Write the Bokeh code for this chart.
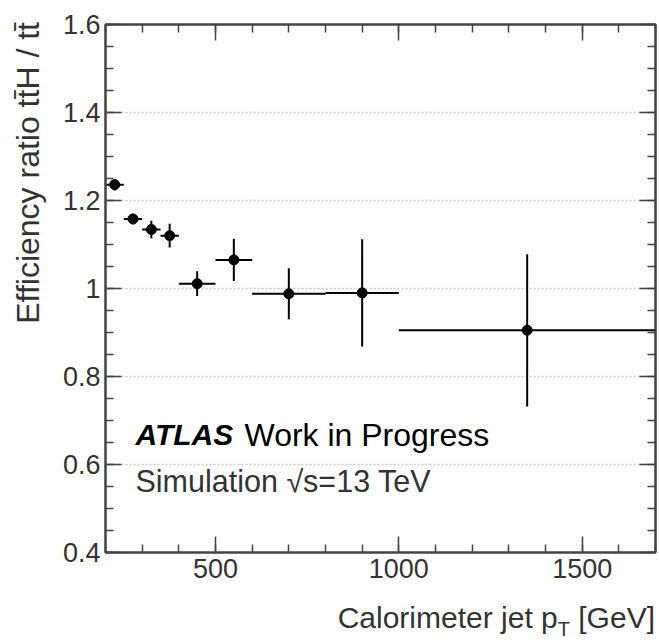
import numpy as np
from bokeh.plotting import figure
from bokeh.layouts import column
from bokeh.models import (Range1d, LinearAxis, FixedTicker, NumeralTickFormatter,
                          CustomJSTickFormatter, Label, ColumnDataSource, Div)
from bokeh.embed import file_html
from bokeh.resources import INLINE

# ---- data ----
pt_center = [225, 275, 325, 375, 450, 550, 700, 900, 1350]
pt_halfwidth = [25, 25, 25, 25, 50, 50, 100, 100, 350]
eff_ratio = [1.236, 1.158, 1.134, 1.120, 1.011, 1.065, 0.988, 0.990, 0.905]
eff_ratio_err = [0.013, 0.012, 0.020, 0.027, 0.028, 0.048, 0.058, 0.122, 0.173]

x_major_ticks = [500, 1000, 1500]
x_minor_ticks = [200, 300, 400, 500, 600, 700, 800, 900, 1000, 1100, 1200, 1300, 1400, 1500, 1600, 1700]
y_major_ticks = [0.4, 0.6, 0.8, 1.0, 1.2, 1.4, 1.6]
y_minor_ticks = [0.4, 0.45, 0.5, 0.55, 0.6, 0.65, 0.7, 0.75, 0.8, 0.85, 0.9, 0.95, 1.0,
                 1.05, 1.1, 1.15, 1.2, 1.25, 1.3, 1.35, 1.4, 1.45, 1.5, 1.55, 1.6]

y_label = "Efficiency ratio tt\u0304H / tt\u0304"
x_label_main = "Calorimeter jet p"
x_label_sub = "T"
x_label_unit = "[GeV]"
atlas_text = "ATLAS"
status_text = "Work in Progress"
sim_text = "Simulation \u221as=13 TeV"

FONT = "Liberation Sans"
AX = "#444444"
TXT = "#333333"

xc = np.array(pt_center, dtype=float)
xw = np.array(pt_halfwidth, dtype=float)
yv = np.array(eff_ratio)
ye = np.array(eff_ratio_err)
src = ColumnDataSource(dict(x=xc, y=yv, xl=xc - xw, xr=xc + xw, ylo=yv - ye, yhi=yv + ye))

p = figure(width=659, height=600, output_backend="svg", toolbar_location=None,
           x_range=Range1d(200, 1700), y_range=Range1d(0.4, 1.6),
           min_border_left=105, min_border_right=4, min_border_top=24, min_border_bottom=48,
           background_fill_color="white", border_fill_color="white")
p.outline_line_color = AX
p.outline_line_width = 2

p.xgrid.visible = False
p.ygrid.ticker = FixedTicker(ticks=y_major_ticks)
p.ygrid.grid_line_color = "#c8c8c8"
p.ygrid.grid_line_dash = "2 2"
p.ygrid.grid_line_width = 1.5


def style_axis(ax, ticker):
    ax.ticker = ticker
    ax.axis_line_color = AX
    ax.axis_line_width = 2
    ax.major_tick_in = 16
    ax.major_tick_out = 0
    ax.minor_tick_in = 8
    ax.minor_tick_out = 0
    ax.major_tick_line_color = AX
    ax.major_tick_line_width = 1.5
    ax.minor_tick_line_color = AX
    ax.minor_tick_line_width = 1.5
    ax.major_label_text_font = FONT
    ax.major_label_text_font_size = "27px"
    ax.major_label_text_color = TXT


style_axis(p.xaxis[0], FixedTicker(ticks=x_major_ticks, minor_ticks=x_minor_ticks))
p.xaxis[0].major_label_standoff = 6
style_axis(p.yaxis[0], FixedTicker(ticks=y_major_ticks, minor_ticks=y_minor_ticks))
p.yaxis[0].formatter = NumeralTickFormatter(format="0.[0]")
p.yaxis[0].major_label_standoff = 5
# ROOT-style title pushed toward the top end of the axis (non-breaking-space padding)
p.yaxis[0].axis_label = "\u00a0" * 26 + y_label
p.yaxis[0].axis_label_text_font = FONT
p.yaxis[0].axis_label_text_font_size = "32px"
p.yaxis[0].axis_label_text_font_style = "normal"
p.yaxis[0].axis_label_text_color = TXT
p.yaxis[0].axis_label_standoff = 14

empty = CustomJSTickFormatter(code="return ''")
top_ax = LinearAxis(formatter=empty, major_label_standoff=0)
style_axis(top_ax, FixedTicker(ticks=x_major_ticks, minor_ticks=x_minor_ticks))
top_ax.major_label_text_font_size = "1px"
p.add_layout(top_ax, "above")
right_ax = LinearAxis(formatter=empty, major_label_standoff=0)
style_axis(right_ax, FixedTicker(ticks=y_major_ticks, minor_ticks=y_minor_ticks))
right_ax.major_label_text_font_size = "1px"
p.add_layout(right_ax, "right")

# error bars and points
p.segment(x0="xl", y0="y", x1="xr", y1="y", source=src, line_color="black", line_width=2)
p.segment(x0="x", y0="ylo", x1="x", y1="yhi", source=src, line_color="black", line_width=2)
p.scatter(x="x", y="y", source=src, size=10, marker="circle", color="black")

# in-plot text
p.add_layout(Label(x=30, y=118, x_units="screen", y_units="screen", text=atlas_text,
                   text_font=FONT, text_font_style="bold italic", text_font_size="30px",
                   text_color="black", text_baseline="alphabetic"))
p.add_layout(Label(x=139, y=118, x_units="screen", y_units="screen", text=status_text,
                   text_font=FONT, text_font_size="32px",
                   text_color="black", text_baseline="alphabetic"))
p.add_layout(Label(x=30, y=72, x_units="screen", y_units="screen", text=sim_text,
                   text_font=FONT, text_font_size="30.5px",
                   text_color=TXT, text_baseline="alphabetic"))

# x axis title (with subscript) below the plot
xtitle = Div(
    text=('<div style="width:655px;text-align:right;font-family:\'Liberation Sans\';'
          'font-size:30px;line-height:35px;color:#333333;white-space:nowrap">'
          f'{x_label_main}<span style="font-size:20px;position:relative;top:8px">{x_label_sub}</span>'
          f' {x_label_unit}</div>'),
    width=659, height=42, margin=(0, 0, 0, 0))

layout = column(p, xtitle, spacing=0)
open("out.html", "w").write(file_html(layout, INLINE))
